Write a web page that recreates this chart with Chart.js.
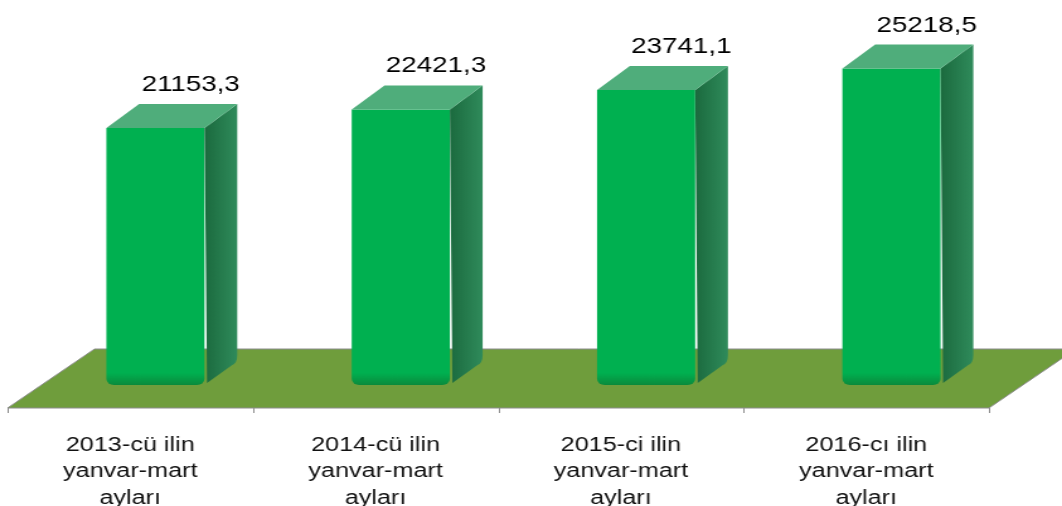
<!DOCTYPE html>
<html>
<head>
<meta charset="utf-8">
<script src="https://cdn.jsdelivr.net/npm/chart.js@4/dist/chart.umd.min.js"></script>
<style>
html,body{margin:0;padding:0;background:#fff;overflow:hidden;width:1062px;height:506px;}
#wrap{width:843px;height:506px;transform:scaleX(1.2598);transform-origin:0 0;}
canvas{display:block;}
</style>
</head>
<body>
<div id="wrap"><canvas id="c" width="843" height="506"></canvas></div>
<script>
const categories = [
  ["2013-cü ilin", "yanvar-mart", "ayları"],
  ["2014-cü ilin", "yanvar-mart", "ayları"],
  ["2015-ci ilin", "yanvar-mart", "ayları"],
  ["2016-cı ilin", "yanvar-mart", "ayları"]
];
const values = [21153.3, 22421.3, 23741.1, 25218.5];
const axisMin = 3600;
const axisMax = 26000;

const SHIFT = 20;      // bar front offset from category centre (perspective)
const DX = 26, DY = 24; // bar depth
const FLOOR_DX = 69;

function fmt(v){ return v.toFixed(1).replace('.', ','); }

const floorPlugin = {
  id: 'floor',
  beforeDatasetsDraw(chart){
    const {ctx, chartArea:a} = chart;
    const front = a.bottom + 23, back = a.bottom - 36;
    ctx.save();
    ctx.beginPath();
    ctx.moveTo(a.left, front);
    ctx.lineTo(a.right, front);
    ctx.lineTo(a.right + FLOOR_DX, back);
    ctx.lineTo(a.left + FLOOR_DX, back);
    ctx.closePath();
    ctx.fillStyle = '#6f9d3c';
    ctx.fill();
    ctx.strokeStyle = '#8c8c8c';
    ctx.lineWidth = 1;
    ctx.stroke();
    const n = categories.length;
    const w = (a.right - a.left) / n;
    ctx.beginPath();
    for (let i = 0; i <= n; i++) {
      const px = Math.round(a.left + i * w) + 0.5;
      ctx.moveTo(px, front);
      ctx.lineTo(px, front + 5);
    }
    ctx.stroke();
    ctx.restore();
    ctx.save();
    ctx.translate(SHIFT, 0);
  },
  afterDatasetsDraw(chart){
    const {ctx} = chart;
    ctx.restore();
    const meta = chart.getDatasetMeta(0);
    ctx.save();
    ctx.translate(SHIFT, 0);
    meta.data.forEach((bar, i) => {
      const p = bar.getProps(['x','y','base','width'], true);
      const l = p.x - p.width/2, r = p.x + p.width/2, t = p.y, b = p.base;
      // side face
      const g = ctx.createLinearGradient(r, 0, r + DX, 0);
      g.addColorStop(0, '#1b6a3e');
      g.addColorStop(1, '#2f8b5b');
      ctx.beginPath();
      ctx.moveTo(r, t);
      ctx.lineTo(r + DX, t - DY);
      ctx.lineTo(r + DX, b - DY - 6);
      ctx.quadraticCurveTo(r + DX, b - DY + 2, r + DX - 4, b - DY + 4);
      ctx.lineTo(r + 2, b - 2);
      ctx.closePath();
      ctx.fillStyle = g;
      ctx.fill();
      // top face
      ctx.beginPath();
      ctx.moveTo(l, t);
      ctx.lineTo(l + DX, t - DY);
      ctx.lineTo(r + DX, t - DY);
      ctx.lineTo(r, t);
      ctx.closePath();
      ctx.fillStyle = '#4fad7b';
      ctx.fill();
      // value label
      ctx.fillStyle = '#000';
      ctx.font = '22px "Liberation Sans", Arial, sans-serif';
      ctx.textAlign = 'center';
      ctx.textBaseline = 'middle';
      ctx.fillText(fmt(values[i]), p.x + 28, t - 43);
    });
    ctx.restore();
  }
};

const ctx = document.getElementById('c').getContext('2d');
new Chart(ctx, {
  type: 'bar',
  data: {
    labels: categories,
    datasets: [{
      data: values,
      base: axisMin,
      backgroundColor: (c) => {
        const chart = c.chart;
        const a = chart.chartArea;
        if (!a) return '#00b050';
        const g = chart.ctx.createLinearGradient(0, a.bottom - 12, 0, a.bottom);
        g.addColorStop(0, '#00b050');
        g.addColorStop(1, '#0a8a3c');
        return g;
      },
      borderWidth: 0,
      borderSkipped: false,
      borderRadius: {topLeft: 0, topRight: 0, bottomLeft: 6, bottomRight: 6},
      barPercentage: 1,
      categoryPercentage: 0.4
    }]
  },
  options: {
    responsive: false,
    devicePixelRatio: 1,
    animation: false,
    layout: {padding: {left: 6, right: 58, top: 57, bottom: 0}},
    plugins: {legend: {display: false}, tooltip: {enabled: false}},
    scales: {
      x: {
        grid: {display: false, drawTicks: false},
        border: {display: false},
        ticks: {
          color: '#111',
          padding: 47,
          maxRotation: 0,
          autoSkip: false,
          font: {family: '"Liberation Sans", Arial, sans-serif', size: 20, lineHeight: 1.33}
        },
        afterFit(scale){ scale.height = 121; }
      },
      y: {
        display: false,
        min: axisMin,
        max: axisMax
      }
    }
  },
  plugins: [floorPlugin]
});
</script>
</body>
</html>
